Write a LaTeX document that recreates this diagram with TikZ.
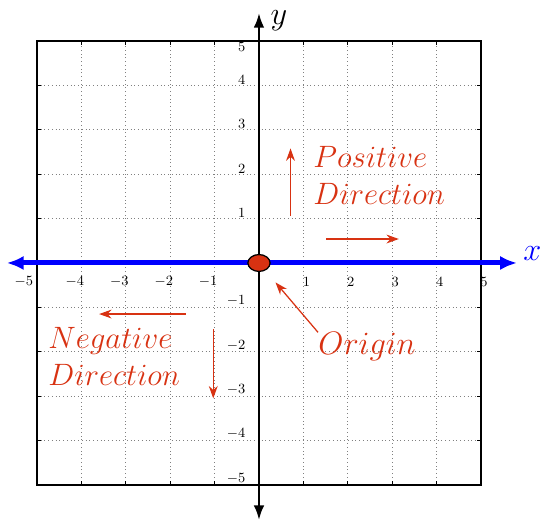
\documentclass[tikz,border=0pt]{standalone}
\usetikzlibrary{arrows.meta,shapes.geometric}
\definecolor{dirred}{RGB}{216,50,18}

\begin{document}
\begin{tikzpicture}[
  dirarrow/.style={dirred,line width=0.8pt,-{Stealth[length=0.28cm,width=0.2cm]}},
  dirtext/.style={dirred,font=\huge,align=left,inner sep=0pt,anchor=west,scale=0.955,transform shape},
  ticklab/.style={font=\small,inner sep=0pt}
]
\useasboundingbox (-5.833,-5.811) rectangle (6.329,5.923);

% dotted grid and frame
\draw[gray,dotted] (-5,-5) grid (5,5);
\draw[line width=0.7pt] (-5,-5) rectangle (5,5);
\foreach \t in {-4,...,4} {
  \draw (\t,-5) -- (\t,-4.9);
  \draw (\t,5) -- (\t,4.9);
  \draw (-5,\t) -- (-4.9,\t);
  \draw (5,\t) -- (4.9,\t);
}

% tick labels
\foreach \t in {1,...,5} {
  \node[ticklab,anchor=west] (xp\t) at (\t-0.02,-0.43) {$\t$};
  \node[ticklab,anchor=east] (yn\t) at (-0.3,-\t+0.15) {$-\t$};
}
\foreach \t in {1,...,4} {
  \node[ticklab,anchor=east] (xn\t) at (-\t+0.07,-0.43) {$-\t$};
  \node[ticklab,anchor=east] (yp\t) at (-0.3,\t+0.12) {$\t$};
}
\node[ticklab,anchor=east] (xn5) at (-5.08,-0.43) {$-5$};
\node[ticklab,anchor=east] (yp5) at (-0.3,4.86) {$5$};

% axes
\coordinate (ybot) at (0,-5.79);
\coordinate (ytop) at (0,5.63);
\coordinate (xleft) at (-5.68,0);
\coordinate (xright) at (5.81,0);
\draw[line width=1.6pt,{Latex[length=0.33cm,width=0.24cm]}-{Latex[length=0.33cm,width=0.24cm]}] (ybot) -- (ytop);
\draw[blue,line width=3.2pt,{Latex[length=0.38cm,width=0.32cm]}-{Latex[length=0.38cm,width=0.32cm]}] (xleft) -- (xright);
\node[font=\huge] (ylab) at (0.45,5.45) {$y$};
\node[blue,font=\huge] (xlab) at (6.16,0.22) {$x$};

% origin
\node[ellipse,draw,line width=0.8pt,fill=dirred,minimum width=0.5cm,minimum height=0.38cm,inner sep=0pt] (dot) at (0,0) {};

% labels
\node[dirtext] (pos) at (1.22,1.98) {$Positive$\\$Direction$};
\node[dirtext] (neg) at (-4.75,-2.11) {$Negative$\\$Direction$};
\node[dirtext,scale=1.05] (orig) at (1.33,-1.89) {$Origin$};

% direction arrows
\coordinate (up1) at (0.71,1.06);
\coordinate (up2) at (0.71,2.58);
\coordinate (rt1) at (1.51,0.54);
\coordinate (rt2) at (3.15,0.54);
\coordinate (lf1) at (-1.65,-1.15);
\coordinate (lf2) at (-3.60,-1.15);
\coordinate (dn1) at (-1.03,-1.49);
\coordinate (dn2) at (-1.03,-3.05);
\draw[dirarrow] (up1) -- (up2);
\draw[dirarrow] (rt1) -- (rt2);
\draw[dirarrow] (lf1) -- (lf2);
\draw[dirarrow] (dn1) -- (dn2);
\draw[dirarrow,shorten >=0.35cm] (orig.north west) -- (dot);

\end{tikzpicture}
\end{document}
